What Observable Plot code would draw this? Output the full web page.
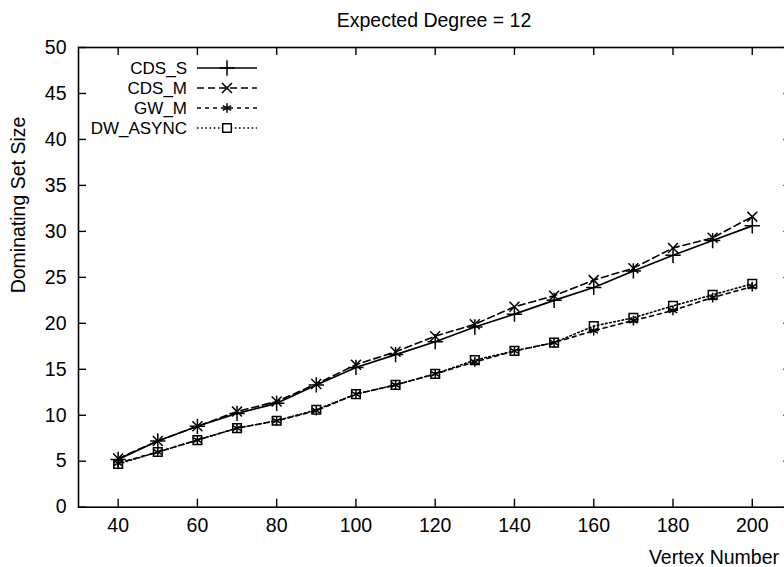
<!DOCTYPE html>
<html>
<head>
<meta charset="utf-8">
<script src="https://cdn.jsdelivr.net/npm/d3@7"></script>
<script src="https://cdn.jsdelivr.net/npm/@observablehq/plot@0.6"></script>
<style>
  html, body { margin: 0; padding: 0; background: #fff; overflow: hidden; }
  #chart { position: relative; width: 784px; height: 567px; overflow: hidden; }
  #chart svg { max-width: none !important; display: block; }
</style>
</head>
<body>
<div id="chart"></div>
<script>
// ---- data ----
const chartTitle = "Expected Degree = 12";
const xLabel = "Vertex Number";
const yLabel = "Dominating Set Size";
const seriesNames = ["CDS_S", "CDS_M", "GW_M", "DW_ASYNC"];
const vertexNumbers = [40, 50, 60, 70, 80, 90, 100, 110, 120, 130, 140, 150, 160, 170, 180, 190, 200];
const cdsS = [5.2, 7.2, 8.8, 10.2, 11.3, 13.3, 15.2, 16.6, 18.0, 19.6, 21.0, 22.5, 23.9, 25.7, 27.4, 29.0, 30.6];
const cdsM = [5.3, 7.2, 8.8, 10.4, 11.5, 13.4, 15.5, 16.9, 18.6, 19.9, 21.8, 23.0, 24.7, 26.0, 28.2, 29.3, 31.6];
const gwM = [4.8, 6.0, 7.3, 8.6, 9.4, 10.5, 12.3, 13.3, 14.5, 15.8, 17.0, 17.9, 19.2, 20.3, 21.4, 22.8, 24.0];
const dwAsync = [4.7, 6.0, 7.3, 8.6, 9.4, 10.6, 12.3, 13.3, 14.5, 16.0, 17.0, 17.9, 19.7, 20.6, 21.9, 23.1, 24.3];
const xTicks = [40, 60, 80, 100, 120, 140, 160, 180, 200];
const yTicks = [0, 5, 10, 15, 20, 25, 30, 35, 40, 45, 50];

// ---- styling ----
const seriesValues = [cdsS, cdsM, gwM, dwAsync];
const styles = [
  {symbol: "plus", d3sym: d3.symbolPlus, r: 5, dash: null, sw: 1.7},
  {symbol: "times", d3sym: d3.symbolTimes, r: 4.6, dash: "7,4", sw: 1.6},
  {symbol: "asterisk", d3sym: d3.symbolAsterisk, r: 4.6, dash: "4,4", sw: 1.6},
  {symbol: "square2", d3sym: d3.symbolSquare2, r: 5.5, dash: "1.6,2.6", sw: 1.6}
];

const W = 800, H = 567;
const mL = 78, mT = 47, mB = 60.3, mR = 8.6;
const plotW = W - mL - mR, plotH = H - mT - mB;
const tickLen = 8;
const font = "'Liberation Sans', Arial, Helvetica, sans-serif";
const fs = 19.5;
const legendFs = 17;

const marks = [];
marks.push(Plot.frame({stroke: "black", strokeWidth: 1.6}));
marks.push(Plot.tickX(xTicks, {x: d => d, insetTop: plotH - tickLen, strokeWidth: 1.4}));
marks.push(Plot.tickX(xTicks, {x: d => d, insetBottom: plotH - tickLen, strokeWidth: 1.4}));
marks.push(Plot.tickY(yTicks, {y: d => d, insetRight: plotW - tickLen, strokeWidth: 1.4}));
marks.push(Plot.tickY(yTicks, {y: d => d, insetLeft: plotW - tickLen, strokeWidth: 1.4}));
marks.push(Plot.axisX({ticks: xTicks, tickSize: 0, tickPadding: 11, label: null}));
marks.push(Plot.axisY({ticks: yTicks, tickSize: 0, tickPadding: 12, label: null}));

seriesNames.forEach((name, i) => {
  const data = vertexNumbers.map((v, j) => ({x: v, y: seriesValues[i][j]}));
  const s = styles[i];
  marks.push(Plot.line(data, {x: "x", y: "y", stroke: "black", strokeWidth: s.sw, strokeDasharray: s.dash}));
  marks.push(Plot.dot(data, {x: "x", y: "y", symbol: () => s.symbol, r: s.r, stroke: "black", fill: "none", strokeWidth: 1.5}));
});

const chart = Plot.plot({
  width: W, height: H,
  marginLeft: mL, marginTop: mT, marginBottom: mB, marginRight: mR,
  x: {domain: [30, 210]},
  y: {domain: [0, 50]},
  style: {fontSize: fs + "px", fontFamily: font, color: "black", background: "white", maxWidth: "none", overflow: "visible"},
  marks
});
document.getElementById("chart").appendChild(chart);

// ---- annotations: title, axis labels, legend ----
const svg = d3.select(chart);
const ann = svg.append("g").attr("font-family", font).attr("font-size", fs).attr("fill", "black");
ann.append("text").attr("x", 434).attr("y", 20).attr("dy", "0.35em").attr("text-anchor", "middle").text(chartTitle);
ann.append("text").attr("x", 779).attr("y", 557).attr("dy", "0.35em").attr("text-anchor", "end").text(xLabel);
ann.append("text").attr("transform", "translate(18,205) rotate(-90)").attr("dy", "0.35em").attr("text-anchor", "middle").text(yLabel);

const textRight = 187, lineX1 = 197, lineX2 = 257, markX = 227, row0 = 68, rowGap = 20;
seriesNames.forEach((name, i) => {
  const s = styles[i];
  const y = row0 + i * rowGap;
  ann.append("text").attr("x", textRight).attr("y", y).attr("dy", "0.35em")
    .attr("font-size", legendFs).attr("text-anchor", "end").text(name);
  ann.append("line").attr("x1", lineX1).attr("x2", lineX2).attr("y1", y).attr("y2", y)
    .attr("stroke", "black").attr("stroke-width", s.sw).attr("stroke-dasharray", s.dash);
  ann.append("path").attr("transform", `translate(${markX},${y})`)
    .attr("d", d3.symbol(s.d3sym, Math.PI * s.r * s.r)())
    .attr("fill", s.symbol === "square2" ? "white" : "none").attr("stroke", "black").attr("stroke-width", 1.5);
});
</script>
</body>
</html>
